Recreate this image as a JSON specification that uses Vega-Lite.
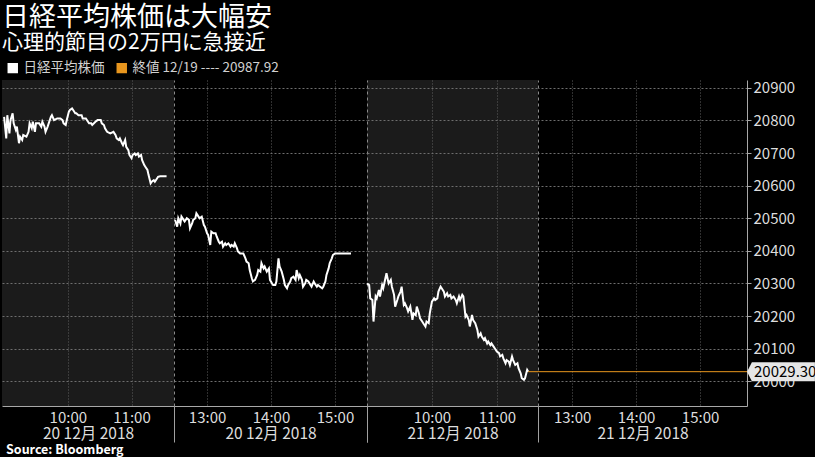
{
"$schema": "https://vega.github.io/schema/vega-lite/v6.json",
"background": "#000000",
"padding": {"left": 0, "right": 0, "top": 4, "bottom": 0},
"title": {"text": "日経平均株価は大幅安", "subtitle": "心理的節目の2万円に急接近", "anchor": "start", "color": "#ffffff", "subtitleColor": "#ffffff", "fontSize": 27, "subtitleFontSize": 21, "fontWeight": "normal", "font": "Noto Sans CJK JP", "subtitleFont": "Noto Sans CJK JP", "offset": 7, "subtitlePadding": 0, "dx": 2},
"datasets": {"d": [
{"s":1,"t":"2018-12-20T09:00","v":20811},{"s":1,"t":"2018-12-20T09:02","v":20745},{"s":1,"t":"2018-12-20T09:03","v":20816},{"s":1,"t":"2018-12-20T09:05","v":20760},{"s":1,"t":"2018-12-20T09:06","v":20801},{"s":1,"t":"2018-12-20T09:08","v":20822},{"s":1,"t":"2018-12-20T09:09","v":20791},{"s":1,"t":"2018-12-20T09:11","v":20771},{"s":1,"t":"2018-12-20T09:12","v":20781},{"s":1,"t":"2018-12-20T09:14","v":20730},{"s":1,"t":"2018-12-20T09:15","v":20750},{"s":1,"t":"2018-12-20T09:17","v":20740},{"s":1,"t":"2018-12-20T09:18","v":20755},{"s":1,"t":"2018-12-20T09:21","v":20750},{"s":1,"t":"2018-12-20T09:23","v":20765},{"s":1,"t":"2018-12-20T09:24","v":20791},{"s":1,"t":"2018-12-20T09:26","v":20776},{"s":1,"t":"2018-12-20T09:27","v":20796},{"s":1,"t":"2018-12-20T09:29","v":20765},{"s":1,"t":"2018-12-20T09:30","v":20791},{"s":1,"t":"2018-12-20T09:33","v":20791},{"s":1,"t":"2018-12-20T09:35","v":20781},{"s":1,"t":"2018-12-20T09:36","v":20796},{"s":1,"t":"2018-12-20T09:38","v":20781},{"s":1,"t":"2018-12-20T09:39","v":20765},{"s":1,"t":"2018-12-20T09:41","v":20781},{"s":1,"t":"2018-12-20T09:42","v":20791},{"s":1,"t":"2018-12-20T09:44","v":20811},{"s":1,"t":"2018-12-20T09:45","v":20816},{"s":1,"t":"2018-12-20T09:47","v":20801},{"s":1,"t":"2018-12-20T09:50","v":20806},{"s":1,"t":"2018-12-20T09:53","v":20806},{"s":1,"t":"2018-12-20T09:55","v":20801},{"s":1,"t":"2018-12-20T09:56","v":20791},{"s":1,"t":"2018-12-20T09:58","v":20786},{"s":1,"t":"2018-12-20T09:59","v":20801},{"s":1,"t":"2018-12-20T10:01","v":20827},{"s":1,"t":"2018-12-20T10:02","v":20832},{"s":1,"t":"2018-12-20T10:04","v":20837},{"s":1,"t":"2018-12-20T10:05","v":20832},{"s":1,"t":"2018-12-20T10:07","v":20822},{"s":1,"t":"2018-12-20T10:08","v":20822},{"s":1,"t":"2018-12-20T10:10","v":20816},{"s":1,"t":"2018-12-20T10:13","v":20816},{"s":1,"t":"2018-12-20T10:14","v":20806},{"s":1,"t":"2018-12-20T10:17","v":20806},{"s":1,"t":"2018-12-20T10:19","v":20796},{"s":1,"t":"2018-12-20T10:20","v":20791},{"s":1,"t":"2018-12-20T10:22","v":20791},{"s":1,"t":"2018-12-20T10:23","v":20786},{"s":1,"t":"2018-12-20T10:26","v":20796},{"s":1,"t":"2018-12-20T10:28","v":20801},{"s":1,"t":"2018-12-20T10:31","v":20801},{"s":1,"t":"2018-12-20T10:32","v":20791},{"s":1,"t":"2018-12-20T10:34","v":20786},{"s":1,"t":"2018-12-20T10:35","v":20776},{"s":1,"t":"2018-12-20T10:37","v":20765},{"s":1,"t":"2018-12-20T10:40","v":20760},{"s":1,"t":"2018-12-20T10:43","v":20765},{"s":1,"t":"2018-12-20T10:45","v":20755},{"s":1,"t":"2018-12-20T10:46","v":20745},{"s":1,"t":"2018-12-20T10:48","v":20740},{"s":1,"t":"2018-12-20T10:49","v":20745},{"s":1,"t":"2018-12-20T10:51","v":20730},{"s":1,"t":"2018-12-20T10:52","v":20724},{"s":1,"t":"2018-12-20T10:54","v":20740},{"s":1,"t":"2018-12-20T10:55","v":20719},{"s":1,"t":"2018-12-20T10:57","v":20709},{"s":1,"t":"2018-12-20T10:58","v":20694},{"s":1,"t":"2018-12-20T11:00","v":20684},{"s":1,"t":"2018-12-20T11:01","v":20694},{"s":1,"t":"2018-12-20T11:03","v":20699},{"s":1,"t":"2018-12-20T11:04","v":20694},{"s":1,"t":"2018-12-20T11:06","v":20699},{"s":1,"t":"2018-12-20T11:07","v":20689},{"s":1,"t":"2018-12-20T11:09","v":20694},{"s":1,"t":"2018-12-20T11:10","v":20678},{"s":1,"t":"2018-12-20T11:12","v":20663},{"s":1,"t":"2018-12-20T11:13","v":20658},{"s":1,"t":"2018-12-20T11:15","v":20648},{"s":1,"t":"2018-12-20T11:16","v":20633},{"s":1,"t":"2018-12-20T11:18","v":20607},{"s":1,"t":"2018-12-20T11:19","v":20612},{"s":1,"t":"2018-12-20T11:21","v":20617},{"s":1,"t":"2018-12-20T11:22","v":20612},{"s":1,"t":"2018-12-20T11:24","v":20622},{"s":1,"t":"2018-12-20T11:25","v":20627},{"s":1,"t":"2018-12-20T11:27","v":20629},{"s":1,"t":"2018-12-20T11:30","v":20629},{"s":1,"t":"2018-12-20T11:33","v":20629},
{"s":2,"t":"2018-12-20T12:30","v":20495},{"s":2,"t":"2018-12-20T12:32","v":20474},{"s":2,"t":"2018-12-20T12:33","v":20500},{"s":2,"t":"2018-12-20T12:35","v":20484},{"s":2,"t":"2018-12-20T12:36","v":20505},{"s":2,"t":"2018-12-20T12:38","v":20495},{"s":2,"t":"2018-12-20T12:39","v":20490},{"s":2,"t":"2018-12-20T12:41","v":20500},{"s":2,"t":"2018-12-20T12:43","v":20495},{"s":2,"t":"2018-12-20T12:44","v":20469},{"s":2,"t":"2018-12-20T12:46","v":20484},{"s":2,"t":"2018-12-20T12:47","v":20495},{"s":2,"t":"2018-12-20T12:49","v":20500},{"s":2,"t":"2018-12-20T12:50","v":20515},{"s":2,"t":"2018-12-20T12:52","v":20505},{"s":2,"t":"2018-12-20T12:53","v":20500},{"s":2,"t":"2018-12-20T12:55","v":20505},{"s":2,"t":"2018-12-20T12:57","v":20479},{"s":2,"t":"2018-12-20T12:58","v":20474},{"s":2,"t":"2018-12-20T13:00","v":20454},{"s":2,"t":"2018-12-20T13:01","v":20449},{"s":2,"t":"2018-12-20T13:03","v":20418},{"s":2,"t":"2018-12-20T13:04","v":20459},{"s":2,"t":"2018-12-20T13:06","v":20454},{"s":2,"t":"2018-12-20T13:08","v":20454},{"s":2,"t":"2018-12-20T13:09","v":20444},{"s":2,"t":"2018-12-20T13:11","v":20428},{"s":2,"t":"2018-12-20T13:12","v":20423},{"s":2,"t":"2018-12-20T13:14","v":20428},{"s":2,"t":"2018-12-20T13:15","v":20413},{"s":2,"t":"2018-12-20T13:17","v":20423},{"s":2,"t":"2018-12-20T13:18","v":20418},{"s":2,"t":"2018-12-20T13:20","v":20423},{"s":2,"t":"2018-12-20T13:22","v":20413},{"s":2,"t":"2018-12-20T13:23","v":20418},{"s":2,"t":"2018-12-20T13:25","v":20413},{"s":2,"t":"2018-12-20T13:26","v":20423},{"s":2,"t":"2018-12-20T13:28","v":20408},{"s":2,"t":"2018-12-20T13:29","v":20398},{"s":2,"t":"2018-12-20T13:31","v":20392},{"s":2,"t":"2018-12-20T13:33","v":20392},{"s":2,"t":"2018-12-20T13:34","v":20392},{"s":2,"t":"2018-12-20T13:36","v":20377},{"s":2,"t":"2018-12-20T13:37","v":20367},{"s":2,"t":"2018-12-20T13:39","v":20362},{"s":2,"t":"2018-12-20T13:40","v":20341},{"s":2,"t":"2018-12-20T13:42","v":20316},{"s":2,"t":"2018-12-20T13:43","v":20306},{"s":2,"t":"2018-12-20T13:45","v":20311},{"s":2,"t":"2018-12-20T13:47","v":20326},{"s":2,"t":"2018-12-20T13:48","v":20341},{"s":2,"t":"2018-12-20T13:50","v":20336},{"s":2,"t":"2018-12-20T13:51","v":20362},{"s":2,"t":"2018-12-20T13:53","v":20346},{"s":2,"t":"2018-12-20T13:54","v":20352},{"s":2,"t":"2018-12-20T13:56","v":20336},{"s":2,"t":"2018-12-20T13:58","v":20346},{"s":2,"t":"2018-12-20T13:59","v":20311},{"s":2,"t":"2018-12-20T14:01","v":20300},{"s":2,"t":"2018-12-20T14:02","v":20295},{"s":2,"t":"2018-12-20T14:04","v":20295},{"s":2,"t":"2018-12-20T14:05","v":20306},{"s":2,"t":"2018-12-20T14:07","v":20377},{"s":2,"t":"2018-12-20T14:08","v":20352},{"s":2,"t":"2018-12-20T14:10","v":20336},{"s":2,"t":"2018-12-20T14:12","v":20311},{"s":2,"t":"2018-12-20T14:13","v":20295},{"s":2,"t":"2018-12-20T14:15","v":20285},{"s":2,"t":"2018-12-20T14:16","v":20295},{"s":2,"t":"2018-12-20T14:18","v":20306},{"s":2,"t":"2018-12-20T14:19","v":20316},{"s":2,"t":"2018-12-20T14:21","v":20321},{"s":2,"t":"2018-12-20T14:23","v":20311},{"s":2,"t":"2018-12-20T14:24","v":20341},{"s":2,"t":"2018-12-20T14:26","v":20316},{"s":2,"t":"2018-12-20T14:27","v":20326},{"s":2,"t":"2018-12-20T14:29","v":20311},{"s":2,"t":"2018-12-20T14:30","v":20290},{"s":2,"t":"2018-12-20T14:32","v":20300},{"s":2,"t":"2018-12-20T14:33","v":20311},{"s":2,"t":"2018-12-20T14:35","v":20306},{"s":2,"t":"2018-12-20T14:37","v":20295},{"s":2,"t":"2018-12-20T14:38","v":20290},{"s":2,"t":"2018-12-20T14:40","v":20306},{"s":2,"t":"2018-12-20T14:41","v":20300},{"s":2,"t":"2018-12-20T14:43","v":20290},{"s":2,"t":"2018-12-20T14:44","v":20295},{"s":2,"t":"2018-12-20T14:46","v":20290},{"s":2,"t":"2018-12-20T14:48","v":20285},{"s":2,"t":"2018-12-20T14:49","v":20290},{"s":2,"t":"2018-12-20T14:51","v":20306},{"s":2,"t":"2018-12-20T14:52","v":20326},{"s":2,"t":"2018-12-20T14:54","v":20346},{"s":2,"t":"2018-12-20T14:55","v":20362},{"s":2,"t":"2018-12-20T14:57","v":20377},{"s":2,"t":"2018-12-20T14:58","v":20387},{"s":2,"t":"2018-12-20T15:00","v":20392},{"s":2,"t":"2018-12-20T15:15","v":20392},
{"s":3,"t":"2018-12-21T09:00","v":20300},{"s":3,"t":"2018-12-21T09:02","v":20295},{"s":3,"t":"2018-12-21T09:03","v":20254},{"s":3,"t":"2018-12-21T09:05","v":20249},{"s":3,"t":"2018-12-21T09:06","v":20183},{"s":3,"t":"2018-12-21T09:08","v":20260},{"s":3,"t":"2018-12-21T09:09","v":20254},{"s":3,"t":"2018-12-21T09:11","v":20280},{"s":3,"t":"2018-12-21T09:12","v":20260},{"s":3,"t":"2018-12-21T09:14","v":20295},{"s":3,"t":"2018-12-21T09:15","v":20285},{"s":3,"t":"2018-12-21T09:17","v":20316},{"s":3,"t":"2018-12-21T09:18","v":20331},{"s":3,"t":"2018-12-21T09:20","v":20300},{"s":3,"t":"2018-12-21T09:22","v":20311},{"s":3,"t":"2018-12-21T09:23","v":20290},{"s":3,"t":"2018-12-21T09:25","v":20265},{"s":3,"t":"2018-12-21T09:26","v":20229},{"s":3,"t":"2018-12-21T09:28","v":20249},{"s":3,"t":"2018-12-21T09:29","v":20260},{"s":3,"t":"2018-12-21T09:31","v":20275},{"s":3,"t":"2018-12-21T09:32","v":20290},{"s":3,"t":"2018-12-21T09:34","v":20234},{"s":3,"t":"2018-12-21T09:35","v":20239},{"s":3,"t":"2018-12-21T09:37","v":20224},{"s":3,"t":"2018-12-21T09:38","v":20214},{"s":3,"t":"2018-12-21T09:40","v":20229},{"s":3,"t":"2018-12-21T09:42","v":20188},{"s":3,"t":"2018-12-21T09:43","v":20208},{"s":3,"t":"2018-12-21T09:45","v":20203},{"s":3,"t":"2018-12-21T09:46","v":20229},{"s":3,"t":"2018-12-21T09:48","v":20208},{"s":3,"t":"2018-12-21T09:49","v":20193},{"s":3,"t":"2018-12-21T09:51","v":20183},{"s":3,"t":"2018-12-21T09:52","v":20178},{"s":3,"t":"2018-12-21T09:54","v":20168},{"s":3,"t":"2018-12-21T09:55","v":20183},{"s":3,"t":"2018-12-21T09:57","v":20178},{"s":3,"t":"2018-12-21T09:58","v":20208},{"s":3,"t":"2018-12-21T10:00","v":20244},{"s":3,"t":"2018-12-21T10:02","v":20254},{"s":3,"t":"2018-12-21T10:03","v":20249},{"s":3,"t":"2018-12-21T10:05","v":20254},{"s":3,"t":"2018-12-21T10:06","v":20275},{"s":3,"t":"2018-12-21T10:08","v":20290},{"s":3,"t":"2018-12-21T10:09","v":20285},{"s":3,"t":"2018-12-21T10:11","v":20275},{"s":3,"t":"2018-12-21T10:12","v":20260},{"s":3,"t":"2018-12-21T10:14","v":20270},{"s":3,"t":"2018-12-21T10:15","v":20260},{"s":3,"t":"2018-12-21T10:17","v":20265},{"s":3,"t":"2018-12-21T10:18","v":20254},{"s":3,"t":"2018-12-21T10:20","v":20260},{"s":3,"t":"2018-12-21T10:22","v":20249},{"s":3,"t":"2018-12-21T10:23","v":20239},{"s":3,"t":"2018-12-21T10:25","v":20260},{"s":3,"t":"2018-12-21T10:26","v":20249},{"s":3,"t":"2018-12-21T10:28","v":20265},{"s":3,"t":"2018-12-21T10:29","v":20260},{"s":3,"t":"2018-12-21T10:31","v":20198},{"s":3,"t":"2018-12-21T10:32","v":20203},{"s":3,"t":"2018-12-21T10:34","v":20188},{"s":3,"t":"2018-12-21T10:35","v":20168},{"s":3,"t":"2018-12-21T10:37","v":20203},{"s":3,"t":"2018-12-21T10:38","v":20188},{"s":3,"t":"2018-12-21T10:40","v":20178},{"s":3,"t":"2018-12-21T10:42","v":20157},{"s":3,"t":"2018-12-21T10:43","v":20137},{"s":3,"t":"2018-12-21T10:45","v":20147},{"s":3,"t":"2018-12-21T10:46","v":20137},{"s":3,"t":"2018-12-21T10:48","v":20127},{"s":3,"t":"2018-12-21T10:49","v":20132},{"s":3,"t":"2018-12-21T10:51","v":20116},{"s":3,"t":"2018-12-21T10:52","v":20122},{"s":3,"t":"2018-12-21T10:54","v":20111},{"s":3,"t":"2018-12-21T10:55","v":20116},{"s":3,"t":"2018-12-21T10:57","v":20106},{"s":3,"t":"2018-12-21T10:58","v":20101},{"s":3,"t":"2018-12-21T11:00","v":20091},{"s":3,"t":"2018-12-21T11:02","v":20086},{"s":3,"t":"2018-12-21T11:03","v":20076},{"s":3,"t":"2018-12-21T11:05","v":20081},{"s":3,"t":"2018-12-21T11:06","v":20070},{"s":3,"t":"2018-12-21T11:08","v":20055},{"s":3,"t":"2018-12-21T11:09","v":20065},{"s":3,"t":"2018-12-21T11:11","v":20060},{"s":3,"t":"2018-12-21T11:12","v":20050},{"s":3,"t":"2018-12-21T11:14","v":20076},{"s":3,"t":"2018-12-21T11:15","v":20065},{"s":3,"t":"2018-12-21T11:17","v":20050},{"s":3,"t":"2018-12-21T11:19","v":20055},{"s":3,"t":"2018-12-21T11:20","v":20040},{"s":3,"t":"2018-12-21T11:22","v":20024},{"s":3,"t":"2018-12-21T11:23","v":20009},{"s":3,"t":"2018-12-21T11:25","v":20004},{"s":3,"t":"2018-12-21T11:26","v":20009},{"s":3,"t":"2018-12-21T11:28","v":20035},{"s":3,"t":"2018-12-21T11:29","v":20029.3}
],
"last": [{"p": 20029.3}]},
"spacing": 0,
"bounds": "flush",
"hconcat": [
{"width": 172, "height": 326, "view": {"fill": "#1b1b1b", "stroke": null},
 "layer": [
  {"data": {"name": "d"}, "transform": [{"filter": "datum.s == 1"}],
   "mark": {"type": "line", "strokeWidth": 2},
   "encoding": {
    "x": {"field": "t", "type": "temporal", "scale": {"domain": [{"year":2018,"month":12,"date":20,"hours":8,"minutes":58},{"year":2018,"month":12,"date":20,"hours":11,"minutes":40}]},
      "axis": {"orient": "bottom", "values": [{"year":2018,"month":12,"date":20,"hours":10},{"year":2018,"month":12,"date":20,"hours":11}], "format": "%H:%M", "ticks": false, "labelPadding": 4, "title": "20 12月 2018", "titlePadding": 1, "grid": true}},
    "y": {"field": "v", "type": "quantitative", "scale": {"domain": [19924, 20924], "nice": false, "zero": false},
      "axis": {"values": [20000,20100,20200,20300,20400,20500,20600,20700,20800,20900], "labels": false, "ticks": false, "domain": false, "grid": true, "title": null}},
    "color": {"datum": "日経平均株価", "type": "nominal", "scale": {"domain": ["日経平均株価", "終値 12/19 ---- 20987.92"], "range": ["#ffffff", "#e8961e"]},
      "legend": {"orient": "top", "direction": "horizontal", "title": null, "symbolType": "square", "symbolSize": 80, "labelFontSize": 13.5, "labelColor": "#d0d0d0", "columnPadding": 6, "offset": 4, "padding": 0, "symbolOffset": 4,
        "encode": {"symbols": {"update": {"fill": {"scale": "color", "field": "value"}, "stroke": {"value": "transparent"}, "opacity": {"value": 1}}}}}}
   }},
  {"data": {"values": [{}]}, "mark": {"type": "text", "align": "left", "baseline": "middle", "dx": 4, "fontSize": 12.5, "fontWeight": "bold", "color": "#ffffff", "font": "Noto Sans CJK JP", "clip": false},
   "encoding": {"y": {"datum": 19789, "type": "quantitative", "axis": {"values": [20000,20100,20200,20300,20400,20500,20600,20700,20800,20900], "labels": false, "ticks": false, "domain": false, "grid": true, "title": null}},
     "x": {"datum": {"year":2018,"month":12,"date":20,"hours":8,"minutes":58}, "type": "temporal", "axis": {"orient": "bottom", "values": [{"year":2018,"month":12,"date":20,"hours":10},{"year":2018,"month":12,"date":20,"hours":11}], "format": "%H:%M", "ticks": false, "labelPadding": 4, "title": "20 12月 2018", "titlePadding": 1, "grid": true}},
     "text": {"value": "Source: Bloomberg"}}}
 ]},
{"width": 193, "height": 326, "view": {"stroke": null},
 "resolve": {"axis": {"x": "independent"}},
 "layer": [
  {"data": {"name": "d"}, "transform": [{"filter": "datum.s == 2"}],
   "mark": {"type": "line", "strokeWidth": 2, "color": "#ffffff"},
   "encoding": {
    "x": {"field": "t", "type": "temporal", "scale": {"domain": [{"year":2018,"month":12,"date":20,"hours":12,"minutes":29},{"year":2018,"month":12,"date":20,"hours":15,"minutes":30}]},
      "axis": {"orient": "bottom", "values": [{"year":2018,"month":12,"date":20,"hours":13},{"year":2018,"month":12,"date":20,"hours":14},{"year":2018,"month":12,"date":20,"hours":15}], "format": "%H:%M", "ticks": false, "labelPadding": 4, "title": "20 12月 2018", "titlePadding": 1, "grid": true}},
    "y": {"field": "v", "type": "quantitative", "scale": {"domain": [19924, 20924], "nice": false, "zero": false},
      "axis": {"values": [20000,20100,20200,20300,20400,20500,20600,20700,20800,20900], "labels": false, "ticks": false, "domain": false, "grid": true, "title": null}}
   }},
  {"data": {"values": [{}]}, "mark": {"type": "rule", "opacity": 0},
   "encoding": {"x": {"datum": {"year":2018,"month":12,"date":20,"hours":12,"minutes":29}, "type": "temporal",
     "axis": {"orient": "bottom", "values": [{"year":2018,"month":12,"date":20,"hours":12,"minutes":29},{"year":2018,"month":12,"date":20,"hours":15,"minutes":30}], "labels": false, "domain": false, "ticks": true, "tickSize": 36, "tickColor": "#a0a0a0", "grid": true, "gridDash": [3,3], "gridColor": "#8a8a8a", "title": null}}}}
 ]},
{"width": 171, "height": 326, "view": {"fill": "#1b1b1b", "stroke": null},
 "resolve": {"axis": {"x": "independent"}},
 "layer": [
  {"data": {"name": "d"}, "transform": [{"filter": "datum.s == 3"}],
   "mark": {"type": "line", "strokeWidth": 2, "color": "#ffffff"},
   "encoding": {
    "x": {"field": "t", "type": "temporal", "scale": {"domain": [{"year":2018,"month":12,"date":21,"hours":9,"minutes":0},{"year":2018,"month":12,"date":21,"hours":11,"minutes":38}]},
      "axis": {"orient": "bottom", "values": [{"year":2018,"month":12,"date":21,"hours":10},{"year":2018,"month":12,"date":21,"hours":11}], "format": "%H:%M", "ticks": false, "labelPadding": 4, "title": "21 12月 2018", "titlePadding": 1, "grid": true}},
    "y": {"field": "v", "type": "quantitative", "scale": {"domain": [19924, 20924], "nice": false, "zero": false},
      "axis": {"values": [20000,20100,20200,20300,20400,20500,20600,20700,20800,20900], "labels": false, "ticks": false, "domain": false, "grid": true, "title": null}}
   }},
  {"data": {"name": "last"}, "mark": {"type": "rule", "color": "#e8961e", "strokeWidth": 1},
   "encoding": {"x": {"datum": {"year":2018,"month":12,"date":21,"hours":11,"minutes":29}, "type": "temporal", "axis": null},
     "x2": {"datum": {"year":2018,"month":12,"date":21,"hours":11,"minutes":38}},
     "y": {"field": "p", "type": "quantitative", "axis": {"values": [20000,20100,20200,20300,20400,20500,20600,20700,20800,20900], "labels": false, "ticks": false, "domain": false, "grid": true, "title": null}}}},
  {"data": {"values": [{}]}, "mark": {"type": "rule", "opacity": 0},
   "encoding": {"x": {"datum": {"year":2018,"month":12,"date":21,"hours":9,"minutes":0}, "type": "temporal",
     "axis": {"orient": "bottom", "values": [{"year":2018,"month":12,"date":21,"hours":9,"minutes":0},{"year":2018,"month":12,"date":21,"hours":11,"minutes":38}], "labels": false, "domain": false, "ticks": true, "tickSize": 36, "tickColor": "#a0a0a0", "grid": true, "gridDash": [3,3], "gridColor": "#8a8a8a", "title": null}}}}
 ]},
{"width": 209, "height": 326, "view": {"stroke": null},
 "layer": [
  {"data": {"name": "last"}, "mark": {"type": "rule", "strokeWidth": 1, "color": "#e8961e"},
   "encoding": {
    "x": {"datum": {"year":2018,"month":12,"date":21,"hours":12,"minutes":28}, "type": "temporal", "scale": {"domain": [{"year":2018,"month":12,"date":21,"hours":12,"minutes":28},{"year":2018,"month":12,"date":21,"hours":15,"minutes":44}]},
      "axis": {"orient": "bottom", "values": [{"year":2018,"month":12,"date":21,"hours":13},{"year":2018,"month":12,"date":21,"hours":14},{"year":2018,"month":12,"date":21,"hours":15}], "format": "%H:%M", "ticks": false, "labelPadding": 4, "title": "21 12月 2018", "titlePadding": 1, "grid": true}},
    "x2": {"datum": {"year":2018,"month":12,"date":21,"hours":15,"minutes":44}},
    "y": {"field": "p", "type": "quantitative", "scale": {"domain": [19924, 20924], "nice": false, "zero": false},
      "axis": {"orient": "right", "values": [20000,20100,20200,20300,20400,20500,20600,20700,20800,20900], "format": "d", "labels": true, "ticks": true, "tickSize": 4, "domain": true, "grid": true, "title": null, "labelPadding": 2, "labelFontSize": 15}}
   }},
  {"data": {"name": "last"}, "mark": {"type": "point", "shape": "M0,0L0.07,-0.136L0.97,-0.136L0.97,0.136L0.07,0.136Z", "size": 19600, "filled": true, "color": "#e6e6e6", "opacity": 1},
   "encoding": {"x": {"datum": {"year":2018,"month":12,"date":21,"hours":15,"minutes":44}, "type": "temporal",
       "axis": {"orient": "bottom", "values": [{"year":2018,"month":12,"date":21,"hours":13},{"year":2018,"month":12,"date":21,"hours":14},{"year":2018,"month":12,"date":21,"hours":15}], "format": "%H:%M", "ticks": false, "labelPadding": 4, "title": "21 12月 2018", "titlePadding": 1, "grid": true}},
     "y": {"field": "p", "type": "quantitative",
       "axis": {"orient": "right", "values": [20000,20100,20200,20300,20400,20500,20600,20700,20800,20900], "format": "d", "labels": true, "ticks": true, "tickSize": 4, "domain": true, "grid": true, "title": null, "labelPadding": 2, "labelFontSize": 15}}}},
  {"data": {"name": "last"}, "mark": {"type": "text", "align": "left", "baseline": "middle", "dx": 7, "fontSize": 15, "color": "#000000", "font": "Noto Sans CJK JP"},
   "encoding": {"x": {"datum": {"year":2018,"month":12,"date":21,"hours":15,"minutes":44}, "type": "temporal",
       "axis": {"orient": "bottom", "values": [{"year":2018,"month":12,"date":21,"hours":13},{"year":2018,"month":12,"date":21,"hours":14},{"year":2018,"month":12,"date":21,"hours":15}], "format": "%H:%M", "ticks": false, "labelPadding": 4, "title": "21 12月 2018", "titlePadding": 1, "grid": true}},
     "y": {"field": "p", "type": "quantitative",
       "axis": {"orient": "right", "values": [20000,20100,20200,20300,20400,20500,20600,20700,20800,20900], "format": "d", "labels": true, "ticks": true, "tickSize": 4, "domain": true, "grid": true, "title": null, "labelPadding": 2, "labelFontSize": 15}},
     "text": {"field": "p", "type": "quantitative", "format": ".2f"}}}
 ]}
],
"config": {
 "view": {"stroke": null},
 "font": "Noto Sans CJK JP",
 "axis": {"labelColor": "#dddddd", "labelFontSize": 15, "titleColor": "#dddddd", "titleFontSize": 15.5, "titleFontWeight": "normal", "domainColor": "#a8a8a8", "tickColor": "#a8a8a8", "gridColor": "#5e5e5e", "gridDash": [1,2], "labelFont": "Noto Sans CJK JP", "titleFont": "Noto Sans CJK JP"},
 "axisY": {"gridColor": "#6e6e6e", "gridDash": [2,2], "gridWidth": 1},
 "legend": {"labelFont": "Noto Sans CJK JP"}
}
}
